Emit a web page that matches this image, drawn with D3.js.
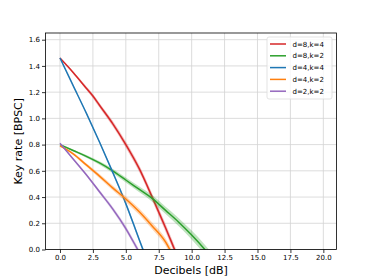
<!DOCTYPE html>
<html>
<head>
<meta charset="utf-8">
<script src="https://cdn.jsdelivr.net/npm/d3@7"></script>
<style>
  body { margin: 0; background: #fff; }
  text { font-family: "DejaVu Sans", sans-serif; fill: #000; }
</style>
</head>
<body>
<div id="chart"></div>
<script>
// series
const labels = ["d=8,k=4", "d=8,k=2", "d=4,k=4", "d=4,k=2", "d=2,k=2"];
const colors = ["#d62728", "#2ca02c", "#1f77b4", "#ff7f0e", "#9467bd"];

const xRed = [0, 1, 2, 2.5, 3, 4, 5, 6, 7, 7.5, 8, 8.7, 9.2];
const yRed = [1.46, 1.35, 1.23, 1.17, 1.10, 0.96, 0.80, 0.62, 0.40, 0.285, 0.17, 0.0, -0.12];
const sRed = [0.005, 0.010, 0.014, 0.016, 0.018, 0.021, 0.024, 0.026, 0.028, 0.029, 0.030, 0.031, 0.032];

const xGreen = [0, 1, 2, 3, 4, 5, 6, 7, 8, 9, 10, 11, 11.5];
const yGreen = [0.80, 0.755, 0.71, 0.66, 0.60, 0.53, 0.46, 0.39, 0.30, 0.21, 0.11, 0.0, -0.06];
const sGreen = [0.004, 0.007, 0.010, 0.013, 0.016, 0.019, 0.022, 0.025, 0.028, 0.031, 0.034, 0.037, 0.038];

const xBlue = [0, 1, 2, 3, 4, 5, 6, 6.3, 6.8];
const yBlue = [1.46, 1.25, 1.04, 0.82, 0.59, 0.35, 0.08, 0.0, -0.14];
const sBlue = [0.004, 0.006, 0.008, 0.010, 0.012, 0.014, 0.016, 0.017, 0.018];

const xOrange = [0, 1, 2, 3, 4, 5, 6, 7, 8, 8.35, 8.8];
const yOrange = [0.79, 0.73, 0.645, 0.56, 0.47, 0.385, 0.29, 0.18, 0.06, 0.0, -0.08];
const sOrange = [0.005, 0.009, 0.013, 0.016, 0.019, 0.022, 0.024, 0.026, 0.028, 0.029, 0.030];

const xPurple = [0, 1, 2, 3, 4, 5, 5.9, 6.4];
const yPurple = [0.81, 0.69, 0.57, 0.44, 0.31, 0.16, 0.0, -0.09];
const sPurple = [0.004, 0.007, 0.010, 0.013, 0.016, 0.019, 0.021, 0.022];

const xTicks = [0, 2.5, 5, 7.5, 10, 12.5, 15, 17.5, 20];
const yTicks = [0, 0.2, 0.4, 0.6, 0.8, 1.0, 1.2, 1.4, 1.6];

const seriesX = [xRed, xGreen, xBlue, xOrange, xPurple];
const seriesY = [yRed, yGreen, yBlue, yOrange, yPurple];
const seriesS = [sRed, sGreen, sBlue, sOrange, sPurple];

const W = 374, H = 280;
const margin = {top: 33, right: 37.5, bottom: 30.5, left: 45.5};
const width = W - margin.left - margin.right;
const height = H - margin.top - margin.bottom;

const svg = d3.select("#chart").append("svg")
    .attr("width", W)
    .attr("height", H);

const g = svg.append("g")
    .attr("transform", `translate(${margin.left},${margin.top})`);

const x = d3.scaleLinear().domain([-1.1, 21.0]).range([0, width]);
const y = d3.scaleLinear().domain([0, 1.651]).range([height, 0]);

// grid
g.append("g").selectAll("line").data(xTicks).join("line")
    .attr("x1", d => x(d)).attr("x2", d => x(d))
    .attr("y1", 0).attr("y2", height)
    .attr("stroke", "#d3d3d3").attr("stroke-width", 0.8);
g.append("g").selectAll("line").data(yTicks).join("line")
    .attr("y1", d => y(d)).attr("y2", d => y(d))
    .attr("x1", 0).attr("x2", width)
    .attr("stroke", "#d3d3d3").attr("stroke-width", 0.8);

svg.append("clipPath").attr("id", "clip")
    .append("rect").attr("width", width).attr("height", height);

const plot = g.append("g").attr("clip-path", "url(#clip)");

seriesX.forEach((xs, i) => {
    const pts = xs.map((xv, j) => ({x: xv, y: seriesY[i][j], s: seriesS[i][j]}));
    const area = d3.area()
        .x(d => x(d.x))
        .y0(d => y(d.y - d.s))
        .y1(d => y(d.y + d.s))
        .curve(d3.curveMonotoneX);
    const line = d3.line()
        .x(d => x(d.x))
        .y(d => y(d.y))
        .curve(d3.curveMonotoneX);
    plot.append("path").datum(pts)
        .attr("d", area)
        .attr("fill", colors[i])
        .attr("fill-opacity", 0.3);
    plot.append("path").datum(pts)
        .attr("d", line)
        .attr("fill", "none")
        .attr("stroke", colors[i])
        .attr("stroke-width", 1.5);
});

// axes
const xAxis = g.append("g")
    .attr("transform", `translate(0,${height})`)
    .call(d3.axisBottom(x).tickValues(xTicks).tickFormat(d3.format(".1f")).tickSize(3.5).tickPadding(2));
const yAxis = g.append("g")
    .call(d3.axisLeft(y).tickValues(yTicks).tickFormat(d3.format(".1f")).tickSize(3.5).tickPadding(2));
[xAxis, yAxis].forEach(a => {
    a.select(".domain").remove();
    a.selectAll(".tick line").attr("stroke", "#000").attr("stroke-width", 0.8);
    a.selectAll(".tick text").attr("font-size", 7).attr("font-family", "DejaVu Sans");
});

g.append("rect")
    .attr("width", width).attr("height", height)
    .attr("fill", "none").attr("stroke", "#000").attr("stroke-width", 0.8);

// axis labels
svg.append("text")
    .attr("x", margin.left + width / 2)
    .attr("y", 274)
    .attr("text-anchor", "middle")
    .attr("font-size", 11)
    .text("Decibels [dB]");
svg.append("text")
    .attr("transform", `translate(22,${margin.top + height / 2})rotate(-90)`)
    .attr("text-anchor", "middle")
    .attr("font-size", 11)
    .text("Key rate [BPSC]");

// legend
const leg = svg.append("g").attr("transform", "translate(267,37)");
leg.append("rect")
    .attr("width", 65).attr("height", 62).attr("rx", 2)
    .attr("fill", "#fff").attr("fill-opacity", 0.8)
    .attr("stroke", "#dcdcdc").attr("stroke-width", 0.8);
labels.forEach((lab, i) => {
    const yy = 7 + i * 11.8;
    leg.append("line")
        .attr("x1", 3).attr("x2", 19)
        .attr("y1", yy).attr("y2", yy)
        .attr("stroke", colors[i]).attr("stroke-width", 1.5);
    leg.append("text")
        .attr("x", 25.5).attr("y", yy + 2.5)
        .attr("font-size", 7)
        .text(lab);
});
</script>
</body>
</html>
